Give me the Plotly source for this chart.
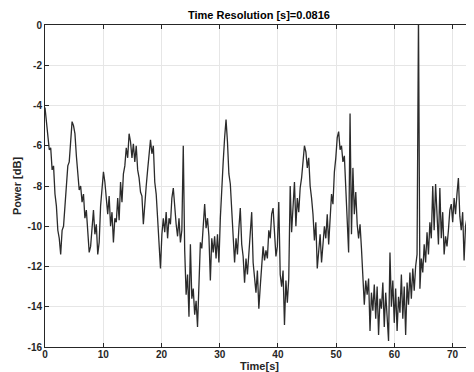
import numpy as np
import plotly.graph_objects as go

# sampling interval of the plotted series (3 x 0.0816 s)
sample_step = 0.0816 * 3

power_db = [
    -4.1, -4.9, -5.6, -6.2,
    -6.1, -7.2, -7.0, -8.4,
    -9.0, -10.2, -10.6, -11.4,
    -10.2, -10.0, -9.0, -8.2,
    -7.0, -6.8, -5.6, -4.8,
    -5.0, -5.4, -6.5, -7.4,
    -8.2, -8.0, -8.8, -8.4,
    -9.6, -9.2, -10.5, -11.3,
    -11.0, -10.2, -9.2, -10.4,
    -9.9, -11.4, -10.8, -9.0,
    -8.1, -7.3, -7.8, -8.6,
    -9.4, -8.5, -10.0, -9.3,
    -10.8, -9.6, -9.8, -8.6,
    -9.7, -7.8, -8.8, -7.4,
    -7.0, -6.1, -6.6, -5.4,
    -5.8, -6.6, -5.9, -6.8,
    -6.0, -7.2, -7.6, -8.3,
    -8.5, -9.9, -8.8, -8.0,
    -7.2, -6.5, -5.7, -6.4,
    -6.0, -7.8, -8.4, -9.6,
    -10.6, -12.1, -10.4, -9.6,
    -10.3, -9.3, -10.6, -9.6,
    -9.9, -8.6, -8.1, -9.2,
    -9.9, -10.5, -9.6, -10.8,
    -10.2, -6.0, -11.2, -13.4,
    -12.4, -14.5, -10.9, -13.6,
    -13.1, -14.4, -13.7, -15.0,
    -12.9, -10.8, -11.1, -9.9,
    -8.9, -10.1, -9.6, -10.5,
    -12.7, -10.6, -11.3, -10.5,
    -11.6, -10.4, -11.8, -9.6,
    -7.9, -6.8, -5.6, -4.7,
    -5.8, -7.4, -7.9, -9.3,
    -10.0, -11.8, -10.6, -11.4,
    -10.1, -9.1, -10.9, -11.5,
    -12.8, -11.6, -12.4, -11.2,
    -10.4, -9.3, -11.8, -12.5,
    -13.3, -12.2, -14.1, -13.0,
    -11.9, -11.0, -11.7, -11.2,
    -11.6, -10.2, -10.6, -9.4,
    -9.1, -10.1, -11.5, -11.0,
    -8.8, -12.4, -13.0, -12.2,
    -14.9, -12.7, -13.8, -12.6,
    -8.0, -10.3, -9.3, -7.8,
    -10.0, -8.6, -9.3, -8.1,
    -7.6, -6.8, -6.0, -6.3,
    -7.1, -6.6, -8.0, -8.6,
    -9.4, -10.7, -9.8, -12.1,
    -11.1, -10.4, -11.8, -10.6,
    -10.0, -10.6, -9.4, -10.9,
    -9.3, -8.4, -8.9, -7.3,
    -6.6, -5.6, -5.3, -6.2,
    -6.0, -6.8, -6.5, -7.9,
    -9.6, -11.3, -4.4, -10.4,
    -7.1, -9.4, -8.3, -9.9,
    -10.6, -9.9, -11.1, -12.6,
    -13.9, -12.7, -13.4, -12.6,
    -15.2, -13.3, -14.2, -12.9,
    -14.6, -13.0, -15.4, -13.6,
    -14.1, -12.8, -15.0, -13.3,
    -14.5, -15.7, -11.3, -14.0,
    -12.7, -14.8, -13.1, -15.2,
    -13.5, -14.3, -12.4, -14.6,
    -13.0, -15.4, -12.8, -13.9,
    -12.3, -13.6, -12.1, -13.2,
    -12.0, -11.4, 0.5, -13.1,
    -11.6, -12.3, -10.9, -11.8,
    -10.3, -11.4, -9.8, -10.6,
    -8.0, -10.2, -7.9, -9.4,
    -10.9, -8.1, -10.6, -9.3,
    -11.4, -10.5, -11.0, -10.2,
    -9.2, -8.9, -9.8, -8.6,
    -9.4, -8.4, -7.6, -9.5,
    -10.2, -9.3, -11.7, -10.0,
    -9.6, -11.9, -10.4, -10.0,
]

time_s = np.arange(len(power_db)) * sample_step

x_ticks = [0, 10, 20, 30, 40, 50, 60, 70]
y_ticks = [0, -2, -4, -6, -8, -10, -12, -14, -16]

title_text = "Time Resolution [s]=0.0816"
x_label = "Time[s]"
y_label = "Power [dB]"

FONT = "Liberation Sans, Arial, Helvetica, sans-serif"

fig = go.Figure()
fig.add_trace(go.Scatter(
    x=time_s, y=power_db, mode="lines",
    line=dict(color="#2b2b2b", width=1.3),
    showlegend=False, hoverinfo="skip",
))

axis_common = dict(
    showline=True, linecolor="#262626", linewidth=1, mirror="ticks",
    ticks="inside", ticklen=4, tickcolor="#262626", tickwidth=1,
    showgrid=True, gridcolor="#e6e6e6", gridwidth=1, zeroline=False,
    tickfont=dict(family=FONT, size=10, color="#262626", weight="bold"),
)

fig.update_xaxes(range=[0, 73.5], tickvals=x_ticks, ticktext=[str(v) for v in x_ticks],
                 ticklabelstandoff=-2, **axis_common)
fig.update_yaxes(range=[-16, 0], tickvals=y_ticks, ticktext=[str(v) for v in y_ticks],
                 ticklabelstandoff=0, **axis_common)

# page body adds an 8px margin, so the figure is 8px smaller on each axis
fig.update_layout(
    width=466, height=364,
    margin=dict(l=37, r=1, t=17, b=25),
    paper_bgcolor="white", plot_bgcolor="white",
    font=dict(family=FONT, color="#262626"),
    annotations=[
        dict(text=f"<b>{title_text}</b>", xref="paper", yref="paper", x=0.5, y=1,
             yshift=10, xanchor="center", yanchor="middle", showarrow=False,
             font=dict(family=FONT, size=11, color="black")),
        dict(text=f"<b>{x_label}</b>", xref="paper", yref="paper", x=0.5, y=0,
             yshift=-19, xanchor="center", yanchor="middle", showarrow=False,
             font=dict(family=FONT, size=11, color="#262626")),
        dict(text=f"<b>{y_label}</b>", xref="paper", yref="paper", x=0, y=0.5,
             xshift=-28, textangle=-90, xanchor="center", yanchor="middle", showarrow=False,
             font=dict(family=FONT, size=11, color="#262626")),
    ],
)

fig.write_html("out.html")
